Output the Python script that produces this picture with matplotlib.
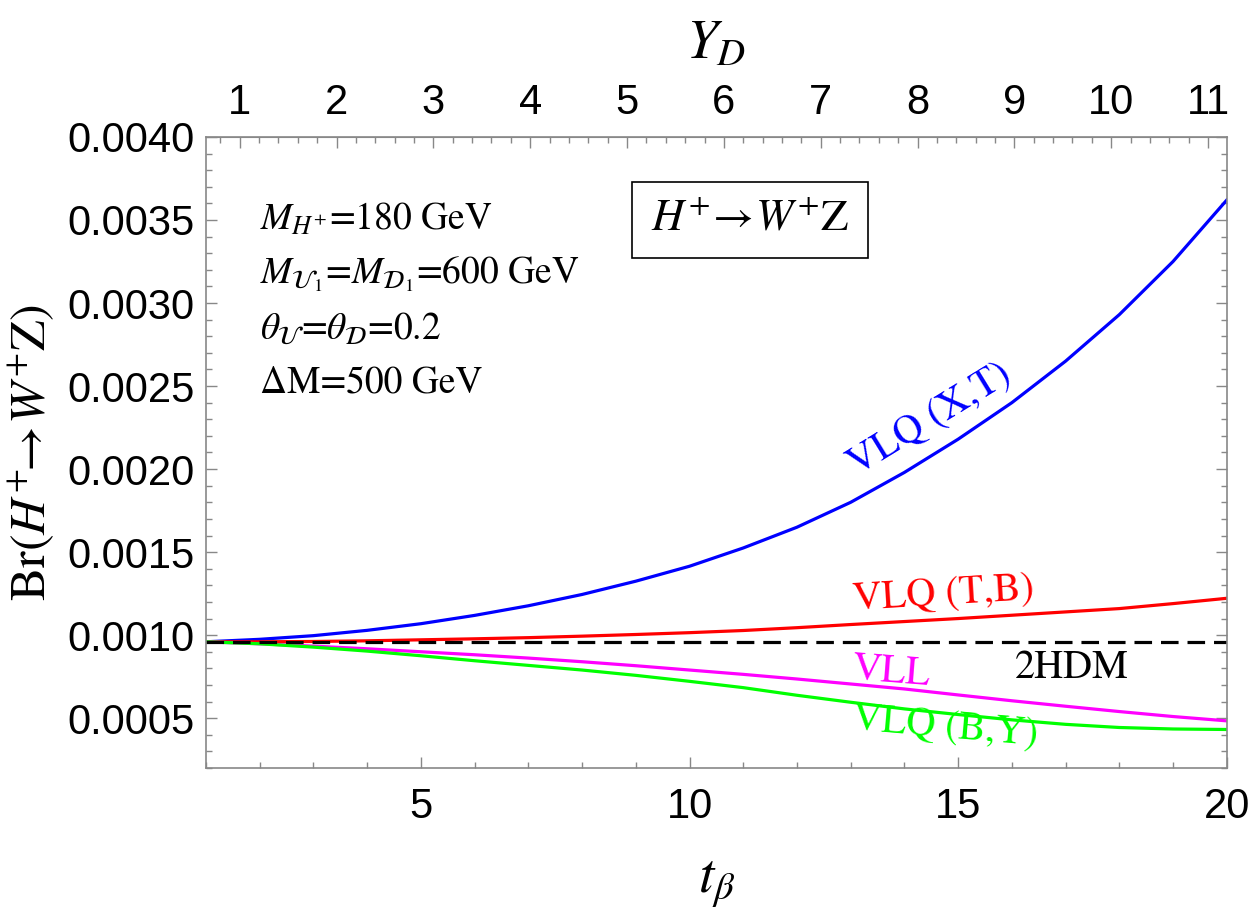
import numpy as np
import matplotlib.pyplot as plt
from matplotlib.ticker import MultipleLocator, FixedLocator, FormatStrFormatter

plt.rcParams['font.family'] = 'Liberation Sans'
plt.rcParams['mathtext.fontset'] = 'stix'

# values at integer t_beta
t_beta = list(range(1, 21))
br_xt = [0.000960, 0.000975, 0.000997, 0.001029, 0.001069, 0.001119, 0.001177, 0.001245,
         0.001325, 0.001415, 0.001525, 0.001650, 0.001800, 0.001980, 0.002180, 0.002400,
         0.002650, 0.002930, 0.003250, 0.003620]
br_tb = [0.000960, 0.000960, 0.000962, 0.000966, 0.000972, 0.000978, 0.000985, 0.000994,
         0.001004, 0.001015, 0.001028, 0.001045, 0.001064, 0.001082, 0.001100, 0.001120,
         0.001140, 0.001160, 0.001190, 0.001222]
br_vll = [0.000960, 0.000948, 0.000934, 0.000918, 0.000900, 0.000882, 0.000862, 0.000840,
          0.000816, 0.000790, 0.000764, 0.000736, 0.000706, 0.000676, 0.000640, 0.000605,
          0.000572, 0.000540, 0.000510, 0.000484]
br_by = [0.000960, 0.000948, 0.000928, 0.000904, 0.000876, 0.000846, 0.000818, 0.000790,
         0.000758, 0.000722, 0.000684, 0.000638, 0.000596, 0.000556, 0.000522, 0.000490,
         0.000463, 0.000444, 0.000435, 0.000432]
br_2hdm = [0.00096] * len(t_beta)

yd_ticks = list(range(1, 12))

# top axis: Y_D against t_beta (linear)
yd_at_t1 = 0.652
yd_slope = 0.5548

def to_yd(t):
    return yd_at_t1 + yd_slope * (np.asarray(t) - 1)

def to_tb(yd):
    return 1 + (np.asarray(yd) - yd_at_t1) / yd_slope

fig = plt.figure(figsize=(12.5, 9.13), dpi=100)
ax = fig.add_axes([0.1648, 0.1588, 0.8166, 0.6912])

lw = 2.3
ax.plot(t_beta, br_xt, color='#0000ff', lw=lw)
ax.plot(t_beta, br_tb, color='#ff0000', lw=lw)
ax.plot(t_beta, br_vll, color='#ff00ff', lw=lw)
ax.plot(t_beta, br_by, color='#00ff00', lw=lw)
ax.plot(t_beta, br_2hdm, color='black', lw=lw, ls=(0, (5.5, 2.8)))

ax.set_xlim(1, 20)
ax.set_ylim(0.0002, 0.0040)
ax.xaxis.set_major_locator(MultipleLocator(5))
ax.xaxis.set_minor_locator(MultipleLocator(1))
ax.yaxis.set_major_locator(MultipleLocator(0.0005))
ax.yaxis.set_minor_locator(MultipleLocator(0.0001))
ax.yaxis.set_major_formatter(FormatStrFormatter('%.4f'))

gray = '#888888'
for s in ax.spines.values():
    s.set_color(gray)
    s.set_linewidth(1.2)
ax.tick_params(which='both', direction='in', color=gray, right=True, top=False,
               labelsize=30, width=1)
ax.tick_params(which='major', length=8)
ax.tick_params(which='minor', length=4.5)
ax.tick_params(axis='x', pad=14)
ax.tick_params(axis='y', pad=8)

sec = ax.secondary_xaxis('top', functions=(to_yd, to_tb))
sec.xaxis.set_major_locator(FixedLocator(yd_ticks))
sec.xaxis.set_minor_locator(MultipleLocator(0.2))
sec.tick_params(which='both', direction='in', color=gray, labelsize=30, width=1, pad=10)
sec.tick_params(which='major', length=8)
sec.tick_params(which='minor', length=4.5)
sec.spines['top'].set_color(gray)
sec.set_xlabel(r'$Y_D$', fontsize=40, labelpad=18)

ax.set_xlabel(r'$t_\beta$', fontsize=40, labelpad=22)
ax.set_ylabel(r'$\mathrm{Br}(H^{+}\!\!\rightarrow\! W^{+}\mathrm{Z})$', fontsize=36, labelpad=8)

serif = 'STIXGeneral'
params = [r'$M_{H^{+}}$=180 GeV',
          r'$M_{\mathcal{U}_1}$=$M_{\mathcal{D}_1}$=600 GeV',
          r'$\theta_{\mathcal{U}}$=$\theta_{\mathcal{D}}$=0.2',
          'ΔM=500 GeV']
for i, line in enumerate(params):
    ax.text(0.053, 0.868 - i * 0.086, line, transform=ax.transAxes, fontsize=27,
            family=serif, va='center', ha='left')

ax.text(0.533, 0.868, r'$H^{+}\!\rightarrow\! W^{+}$Z', transform=ax.transAxes,
        fontsize=32, family=serif, ha='center', va='center',
        bbox=dict(boxstyle='square,pad=0.42', fc='white', ec='black', lw=1.2))

ax.text(14.48, 0.002295, 'VLQ (X,T)', color='#0000ff', fontsize=29, family=serif,
        ha='center', va='center', rotation=31.5, rotation_mode='anchor')
ax.text(14.72, 0.001241, 'VLQ (T,B)', color='#ff0000', fontsize=29, family=serif,
        ha='center', va='center', rotation=3.5, rotation_mode='anchor')
ax.text(13.76, 0.000777, 'VLL', color='#ff00ff', fontsize=29, family=serif,
        ha='center', va='center', rotation=-4.5, rotation_mode='anchor')
ax.text(17.11, 0.000801, '2HDM', color='black', fontsize=29, family=serif,
        ha='center', va='center')
ax.text(14.76, 0.00044, 'VLQ (B,Y)', color='#00ff00', fontsize=29, family=serif,
        ha='center', va='center', rotation=-5, rotation_mode='anchor')

fig.savefig('out.png', dpi=100)
